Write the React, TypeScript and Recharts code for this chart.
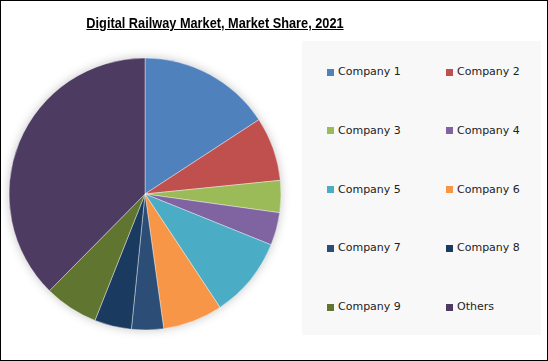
import React from "react";
import { PieChart, Pie, Cell, Legend } from "recharts";

const companies = [
  "Company 1",
  "Company 2",
  "Company 3",
  "Company 4",
  "Company 5",
  "Company 6",
  "Company 7",
  "Company 8",
  "Company 9",
  "Others",
];
const shares = [15.8, 7.6, 3.8, 3.9, 9.6, 7.1, 3.8, 4.4, 6.4, 37.6];
const colors = [
  "#4F81BD",
  "#C0504D",
  "#9BBB59",
  "#8064A2",
  "#4BACC6",
  "#F79646",
  "#2C4D75",
  "#1B3A5F",
  "#5F7530",
  "#4D3B62",
];

const data = companies.map((name, i) => ({ name, value: shares[i] }));

const renderLegend = (props: any) => {
  const { payload } = props;
  return (
    <div style={{ position: "relative", width: 239, height: 294 }}>
      {payload.map((entry: any, i: number) => {
        const col = i % 2;
        const row = Math.floor(i / 2);
        return (
          <div
            key={entry.value}
            style={{
              position: "absolute",
              left: 25 + col * 119,
              top: 23 + row * 58.75,
              height: 16,
              lineHeight: "16px",
              display: "flex",
              alignItems: "center",
              fontFamily: "DejaVu Sans",
              fontSize: 11,
              color: "#222",
              whiteSpace: "nowrap",
            }}
          >
            <span
              style={{
                display: "inline-block",
                width: 7,
                height: 7,
                background: entry.color,
                marginRight: 4,
              }}
            />
            {entry.value}
          </div>
        );
      })}
    </div>
  );
};

export default function App() {
  return (
    <div
      style={{
        position: "absolute",
        left: 0,
        top: 0,
        width: 548,
        height: 361,
        boxSizing: "border-box",
        border: "1px solid #000",
        background: "#fff",
        overflow: "hidden",
      }}
    >
      <style>{`.recharts-pie { filter: drop-shadow(0 0 5px rgba(0,0,0,0.22)); }`}</style>
      <div
        style={{
          position: "absolute",
          left: 0,
          top: 13,
          width: 428,
          textAlign: "center",
          fontFamily: "Liberation Sans",
          fontWeight: "bold",
          fontSize: 15,
          textDecoration: "underline",
          color: "#000",
          transform: "scaleX(0.85)",
          transformOrigin: "214px 0",
        }}
      >
        Digital Railway Market, Market Share, 2021
      </div>
      <div style={{ position: "absolute", left: -1, top: -1 }}>
        <PieChart
          width={548}
          height={361}
          margin={{ top: 0, right: 0, bottom: 0, left: 0 }}
        >
          <Pie
            data={data}
            dataKey="value"
            nameKey="name"
            cx={145}
            cy={194}
            outerRadius={136}
            startAngle={90}
            endAngle={-270}
            stroke="#ffffff"
            strokeWidth={0.4}
            isAnimationActive={false}
          >
            {data.map((d, i) => (
              <Cell key={d.name} fill={colors[i]} />
            ))}
          </Pie>
          <Legend
            content={renderLegend}
            wrapperStyle={{
              position: "absolute",
              left: 302,
              top: 41,
              width: 239,
              height: 294,
              background: "#F8F8F8",
            }}
          />
        </PieChart>
      </div>
    </div>
  );
}
